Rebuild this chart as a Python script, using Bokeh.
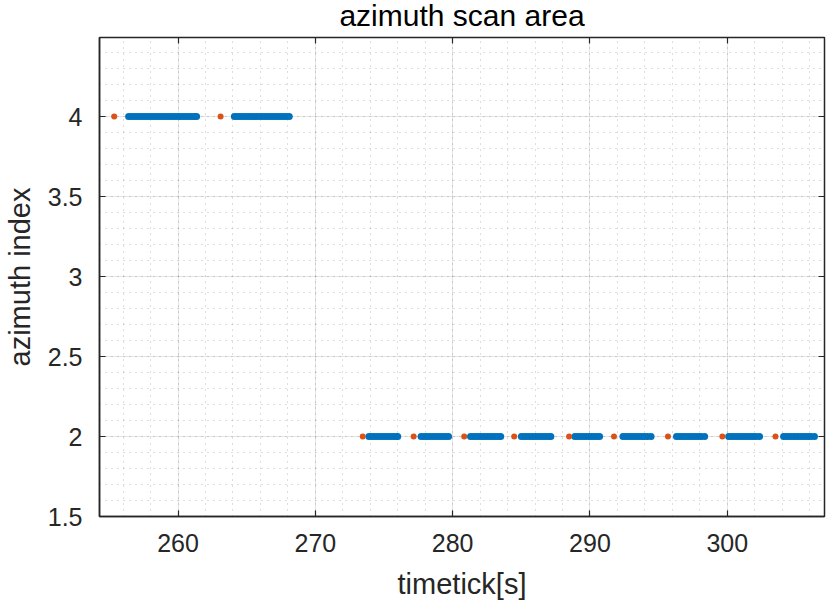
from bokeh.plotting import figure
from bokeh.models import (Range1d, LinearAxis, SingleIntervalTicker, Grid,
                          NumeralTickFormatter, CustomJSTickFormatter, ColumnDataSource)
from bokeh.embed import file_html
from bokeh.resources import INLINE

# ---------------- data ----------------
title_text = "azimuth scan area"
x_label_text = "timetick[s]"
y_label_text = "azimuth index"

# blue samples at azimuth index 4
upper_blue_t = [256.4, 256.6, 256.8, 257.0, 257.2, 257.4, 257.6, 257.8, 258.0, 258.2,
                258.4, 258.6, 258.8, 259.0, 259.2, 259.4, 259.6, 259.8, 260.0, 260.2,
                260.4, 260.6, 260.8, 261.0, 261.2, 261.35,
                264.1, 264.3, 264.5, 264.7, 264.9, 265.1, 265.3, 265.5, 265.7, 265.9,
                266.1, 266.3, 266.5, 266.7, 266.9, 267.1, 267.3, 267.5, 267.7, 267.9, 268.1]
upper_level = 4

# blue samples at azimuth index 2
lower_blue_t = [273.9, 274.1, 274.3, 274.5, 274.7, 274.9, 275.1, 275.3, 275.5, 275.7, 275.9, 276.0,
                277.7, 277.9, 278.1, 278.3, 278.5, 278.7, 278.9, 279.1, 279.3, 279.5, 279.7,
                281.3, 281.5, 281.7, 281.9, 282.1, 282.3, 282.5, 282.7, 282.9, 283.1, 283.3, 283.5,
                285.0, 285.2, 285.4, 285.6, 285.8, 286.0, 286.2, 286.4, 286.6, 286.8, 287.0, 287.15,
                288.9, 289.1, 289.3, 289.5, 289.7, 289.9, 290.1, 290.3, 290.5, 290.7,
                292.4, 292.6, 292.8, 293.0, 293.2, 293.4, 293.6, 293.8, 294.0, 294.2, 294.45,
                296.3, 296.5, 296.7, 296.9, 297.1, 297.3, 297.5, 297.7, 297.9, 298.1, 298.35,
                300.1, 300.3, 300.5, 300.7, 300.9, 301.1, 301.3, 301.5, 301.7, 301.9, 302.1, 302.35,
                304.1, 304.3, 304.5, 304.7, 304.9, 305.1, 305.3, 305.5, 305.7, 305.9, 306.1, 306.35]
lower_level = 2

# orange samples (start of each scan)
orange_t = [255.35, 263.1, 273.45, 277.16, 280.84, 284.48, 288.48, 291.75, 295.68, 299.64, 303.51]
orange_y = [4, 4, 2, 2, 2, 2, 2, 2, 2, 2, 2]

x_start, x_end = 254.28, 307.08
y_start, y_end = 1.5, 4.494

# ---------------- figure ----------------
FONT = "Liberation Sans"
AX = "#262626"

p = figure(width=830, height=602, output_backend="svg", toolbar_location=None,
           x_range=Range1d(x_start, x_end), y_range=Range1d(y_start, y_end),
           min_border_left=98, min_border_right=6, min_border_top=37, min_border_bottom=86,
           x_axis_type=None, y_axis_type=None)
p.background_fill_color = "white"
p.border_fill_color = "white"
p.outline_line_color = AX
p.outline_line_width = 1.5

p.title.text = title_text
p.title.text_font = FONT
p.title.text_font_size = "30px"
p.title.text_font_style = "normal"
p.title.text_color = "black"
p.title.align = "center"
p.title.vertical_align = "top"
p.title.standoff = -2.5
p.title.offset = 0

xt = SingleIntervalTicker(interval=10, num_minor_ticks=5)
yt = SingleIntervalTicker(interval=0.5, num_minor_ticks=5)


def make_axis(ticker, show_labels):
    ax = LinearAxis(ticker=ticker)
    ax.axis_line_color = AX if show_labels else None
    ax.axis_line_width = 1.5
    ax.major_tick_line_color = AX
    ax.major_tick_line_width = 1.2
    ax.major_tick_in = 6
    ax.major_tick_out = 0
    ax.minor_tick_line_color = None
    if show_labels:
        ax.major_label_text_font = FONT
        ax.major_label_text_font_size = "25px"
        ax.major_label_text_color = AX
        ax.major_label_standoff = 13
        ax.axis_label_text_font = FONT
        ax.axis_label_text_font_size = "29px"
        ax.axis_label_text_font_style = "normal"
        ax.axis_label_text_color = AX
    else:
        ax.formatter = CustomJSTickFormatter(code="return ''")
        ax.major_label_text_font_size = "1px"
        ax.major_label_standoff = 0
    return ax


xb = make_axis(xt, True)
xb.axis_label = x_label_text
xb.axis_label_standoff = 13
yl = make_axis(yt, True)
yl.formatter = NumeralTickFormatter(format="0.[0]")
yl.axis_label = y_label_text
yl.axis_label_standoff = 9
xa = make_axis(xt, False)
yr = make_axis(yt, False)
p.add_layout(xb, "below")
p.add_layout(yl, "left")
p.add_layout(xa, "above")
p.add_layout(yr, "right")

for dim, tk in ((0, xt), (1, yt)):
    g = Grid(dimension=dim, ticker=tk)
    g.grid_line_color = AX
    g.grid_line_alpha = 0.12
    g.grid_line_width = 1
    g.minor_grid_line_color = AX
    g.minor_grid_line_alpha = 0.3
    g.minor_grid_line_dash = "1 5"
    p.add_layout(g)

# ---------------- marks ----------------
up_src = ColumnDataSource(dict(t=upper_blue_t, y=[upper_level] * len(upper_blue_t)))
lo_src = ColumnDataSource(dict(t=lower_blue_t, y=[lower_level] * len(lower_blue_t)))
or_src = ColumnDataSource(dict(t=orange_t, y=orange_y))

for src in (up_src, lo_src):
    p.scatter("t", "y", source=src, size=7, marker="circle",
              fill_color="#0072BD", line_color="#0072BD", line_width=0)
p.scatter("t", "y", source=or_src, size=6, marker="circle",
          fill_color="#D95319", line_color="#D95319", line_width=0)

open("out.html", "w").write(file_html(p, INLINE))
